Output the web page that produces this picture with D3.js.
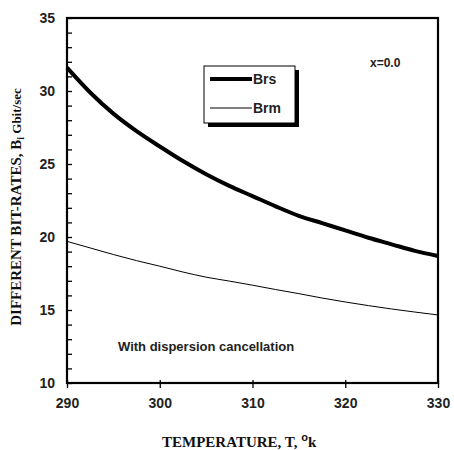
<!DOCTYPE html>
<html><head><meta charset="utf-8">
<script src="https://cdn.jsdelivr.net/npm/d3@7/dist/d3.min.js"></script>
<style>body{margin:0;background:#fff}svg{display:block}</style>
</head><body>
<svg id="c" width="454" height="450"></svg>
<script>
const temps = [290, 292.5, 295, 297.5, 300, 302.5, 305, 307.5, 310, 312.5, 315, 317.5, 320, 322.5, 325, 327.5, 330];
const brs = [31.6, 29.9, 28.45, 27.25, 26.2, 25.2, 24.3, 23.5, 22.8, 22.1, 21.45, 20.95, 20.45, 19.95, 19.5, 19.05, 18.7];
const brm = [19.7, 19.25, 18.8, 18.38, 18.0, 17.6, 17.25, 16.98, 16.7, 16.4, 16.12, 15.82, 15.55, 15.3, 15.07, 14.86, 14.66];
const xTicks = [290, 300, 310, 320, 330];
const yTicks = [10, 15, 20, 25, 30, 35];
const yMinor = d3.range(10, 36, 1);
const seriesNames = ["Brs", "Brm"];
const note1 = "x=0.0";
const note2 = "With dispersion cancellation";

const svg = d3.select("#c");
const L = 67, R = 438, T = 18, B = 383;
const x = d3.scaleLinear().domain([290, 330]).range([L, R]);
const y = d3.scaleLinear().domain([10, 35]).range([B, T]);
const lab = "Arial, 'Liberation Sans', sans-serif";
const serif = "'Times New Roman', 'Liberation Serif', serif";

// y axis minor ticks inside
const ya = svg.append("g").attr("transform", `translate(${L},0)`)
  .call(d3.axisRight(y).tickValues(yMinor).tickSize(5).tickFormat(""));
ya.select(".domain").remove();
ya.selectAll("line").attr("stroke", "#000").attr("stroke-width", 1.3);
// y labels
const yl = svg.append("g").attr("transform", `translate(${L},0)`)
  .call(d3.axisLeft(y).tickValues(yTicks).tickSize(0).tickPadding(12).tickFormat(d3.format("d")));
yl.select(".domain").remove();
yl.selectAll("text").attr("font-family", lab).attr("font-weight", "bold").attr("font-size", 14).attr("fill", "#222");

// x axis ticks crossing
const xa = svg.append("g").attr("transform", `translate(0,${B})`)
  .call(d3.axisBottom(x).tickValues(xTicks).tickSize(5).tickPadding(10).tickFormat(d3.format("d")));
xa.select(".domain").remove();
xa.selectAll("line").attr("y1", -3).attr("stroke", "#000").attr("stroke-width", 1.3);
xa.selectAll("text").attr("font-family", lab).attr("font-weight", "bold").attr("font-size", 14).attr("fill", "#222");

// frame
svg.append("rect").attr("x", L).attr("y", T).attr("width", R - L).attr("height", B - T)
  .attr("fill", "none").attr("stroke", "#000").attr("stroke-width", 2.2);

// lines
const line = d3.line().x((d, i) => x(temps[i])).y(d => y(d)).curve(d3.curveMonotoneX);
svg.append("path").datum(brs).attr("d", line).attr("fill", "none").attr("stroke", "#000").attr("stroke-width", 4);
svg.append("path").datum(brm).attr("d", line).attr("fill", "none").attr("stroke", "#000").attr("stroke-width", 1);

// legend
const lx = 204, ly = 66, lw = 91, lh = 57;
svg.append("rect").attr("x", lx + 4).attr("y", ly + 4).attr("width", lw).attr("height", lh).attr("fill", "#000");
svg.append("rect").attr("x", lx).attr("y", ly).attr("width", lw).attr("height", lh).attr("fill", "#fff").attr("stroke", "#000").attr("stroke-width", 1);
const widths = [4, 1];
seriesNames.forEach((n, i) => {
  const yy = ly + 13 + i * 29;
  svg.append("line").attr("x1", lx + 6).attr("x2", lx + 48).attr("y1", yy).attr("y2", yy)
    .attr("stroke", "#000").attr("stroke-width", widths[i]);
  svg.append("text").attr("x", lx + 49).attr("y", yy + 5).text(n)
    .attr("font-family", lab).attr("font-weight", "bold").attr("font-size", 14).attr("fill", "#222");
});

svg.append("text").attr("x", 370).attr("y", 67).text(note1)
  .attr("font-family", lab).attr("font-weight", "bold").attr("font-size", 12).attr("fill", "#222");
svg.append("text").attr("x", 118).attr("y", 351).text(note2)
  .attr("font-family", lab).attr("font-weight", "bold").attr("font-size", 13).attr("fill", "#222");

// x title
const xt = svg.append("text").attr("x", 162).attr("y", 447)
  .attr("font-family", serif).attr("font-weight", "bold").attr("font-size", 15).attr("fill", "#111");
xt.append("tspan").text("TEMPERATURE, T, ");
xt.append("tspan").text("o").attr("font-family", lab).attr("font-size", 11).attr("dy", -6);
xt.append("tspan").text("k").attr("dy", 6);

// y title
const yt = svg.append("text").attr("transform", "translate(21,207) rotate(-90)").attr("text-anchor", "middle")
  .attr("font-family", serif).attr("font-weight", "bold").attr("font-size", 15).attr("fill", "#111");
yt.append("tspan").text("DIFFERENT BIT-RATES, B");
yt.append("tspan").text("i").attr("font-size", 10).attr("dy", 3);
yt.append("tspan").text(" Gbit/sec").attr("font-size", 13).attr("dy", -3);
</script>
</body></html>
